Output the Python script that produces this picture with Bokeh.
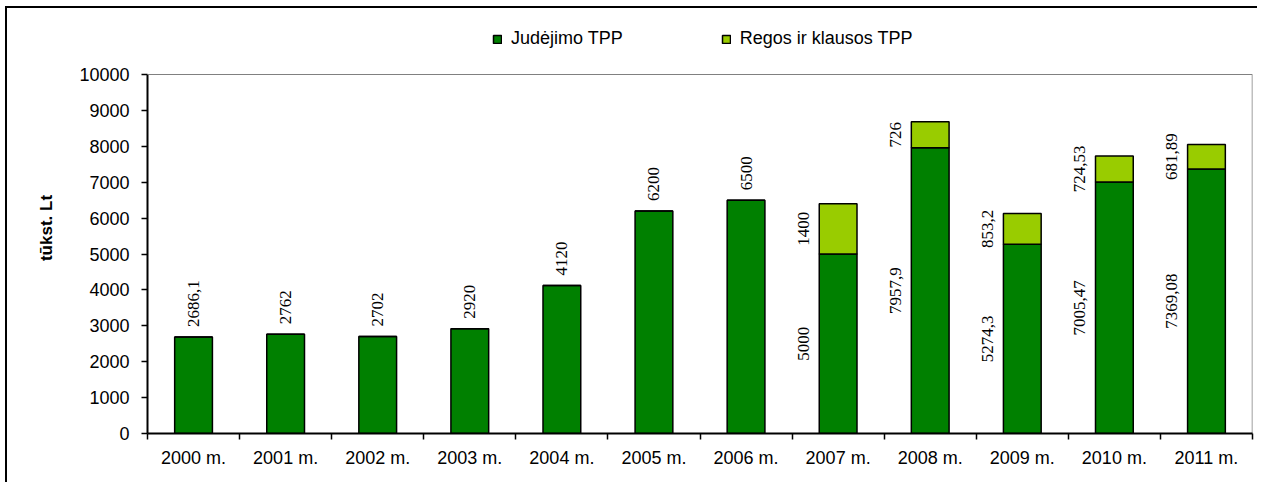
import math
from bokeh.plotting import figure
from bokeh.models import (ColumnDataSource, Range1d, FixedTicker, SingleIntervalTicker,
                          Legend, LegendItem, Span)
from bokeh.core.properties import value
from bokeh.embed import file_html
from bokeh.resources import INLINE

categories = ["2000 m.", "2001 m.", "2002 m.", "2003 m.", "2004 m.", "2005 m.",
              "2006 m.", "2007 m.", "2008 m.", "2009 m.", "2010 m.", "2011 m."]
judejimo = [2686.1, 2762, 2702, 2920, 4120, 6200, 6500, 5000, 7957.9, 5274.3, 7005.47, 7369.08]
regos = [0, 0, 0, 0, 0, 0, 0, 1400, 726, 853.2, 724.53, 681.89]
series_names = ["Judėjimo TPP", "Regos ir klausos TPP"]
colors = ["#008000", "#99CC00"]
y_max = 10000
y_ticks_step = 1000

# layout (pixels): the frame is extended upwards so the legend can sit above the plot area
FRAME_H = 411
PLOT_H = 359


def fmt(v):
    return f"{v:g}".replace(".", ",")


xs = list(range(len(categories)))
x_lo, x_hi = -0.5, len(categories) - 0.5
src = ColumnDataSource(dict(x=xs, jud=judejimo, reg=regos))

p = figure(width=1252, height=476, x_range=Range1d(x_lo, x_hi),
           y_range=Range1d(0, y_max * FRAME_H / PLOT_H), output_backend="svg",
           toolbar_location=None,
           min_border_left=140, min_border_right=7, min_border_top=14, min_border_bottom=51)
p.styles = {"box-shadow": "-2px -2px 0 0 black", "margin-left": "7px", "margin-top": "8px"}
p.xgrid.visible = False
p.ygrid.visible = False
p.outline_line_color = None

# plot-area outline (top and right, grey)
p.add_layout(Span(location=y_max, dimension="width", line_color="#808080", line_width=1))
p.segment(x0=[x_hi], y0=[0], x1=[x_hi], y1=[y_max], line_color="#808080", line_width=1.5)

rs = p.vbar_stack(["jud", "reg"], x="x", width=0.41, color=colors, line_color="black",
                  line_width=1.5, source=src)

# Single-series labels above the bars
single = [i for i in xs if regos[i] == 0]
s_src = ColumnDataSource(dict(x=[xs[i] for i in single],
                              y=[judejimo[i] for i in single],
                              t=[fmt(judejimo[i]) for i in single]))
p.text(x="x", y="y", text="t", source=s_src, angle=math.pi / 2, text_align="left",
       text_baseline="middle", y_offset=-10, text_font=value("Liberation Serif"),
       text_font_size="17px", text_color="black")

# Stacked labels, left of the bars at segment centers
stack = [i for i in xs if regos[i] != 0]
lx, ly, lt = [], [], []
for i in stack:
    lx += [xs[i] - 0.38, xs[i] - 0.38]
    ly += [judejimo[i] / 2, judejimo[i] + regos[i] / 2]
    lt += [fmt(judejimo[i]), fmt(regos[i])]
st_src = ColumnDataSource(dict(x=lx, y=ly, t=lt))
p.text(x="x", y="y", text="t", source=st_src, angle=math.pi / 2, text_align="center",
       text_baseline="middle", text_font=value("Liberation Serif"),
       text_font_size="17px", text_color="black")

# Axes
p.xaxis.ticker = FixedTicker(ticks=xs, minor_ticks=[x - 0.5 for x in xs] + [xs[-1] + 0.5])
p.xaxis.major_label_overrides = {i: c for i, c in enumerate(categories)}
p.xaxis.major_tick_line_color = None
p.xaxis.major_tick_out = 6
p.xaxis.minor_tick_in = 0
p.xaxis.minor_tick_out = 6
p.xaxis.minor_tick_line_color = "black"
p.xaxis.minor_tick_line_width = 1.5
p.xaxis.major_label_standoff = 8
p.xaxis.axis_line_width = 2
p.xaxis.axis_line_color = "black"

p.yaxis.ticker = SingleIntervalTicker(interval=y_ticks_step)
p.yaxis.bounds = (0, y_max)
p.yaxis.minor_tick_line_color = None
p.yaxis.major_tick_in = 0
p.yaxis.major_tick_out = 6
p.yaxis.major_tick_line_width = 1.5
p.yaxis.major_tick_line_color = "black"
p.yaxis.major_label_standoff = 12
p.yaxis.axis_line_width = 2
p.yaxis.axis_line_color = "black"
p.yaxis.axis_label = "tūkst. Lt"
p.yaxis.axis_label_text_font = "Liberation Sans"
p.yaxis.axis_label_text_font_style = "bold"
p.yaxis.axis_label_text_font_size = "17px"
p.yaxis.axis_label_text_color = "black"
p.yaxis.axis_label_standoff = 20

for ax in (p.xaxis, p.yaxis):
    ax.major_label_text_font = "Liberation Sans"
    ax.major_label_text_font_size = "18px"
    ax.major_label_text_color = "black"

legend = Legend(items=[LegendItem(label=series_names[k], renderers=[rs[k]]) for k in range(2)],
                orientation="horizontal", location=(345, 384), spacing=98,
                glyph_width=10, glyph_height=10, label_standoff=9,
                label_text_font="Liberation Sans", label_text_font_size="18px",
                label_text_color="black",
                border_line_color=None, background_fill_alpha=0, margin=0, padding=4)
p.add_layout(legend, "center")

open("out.html", "w").write(file_html(p, INLINE))
